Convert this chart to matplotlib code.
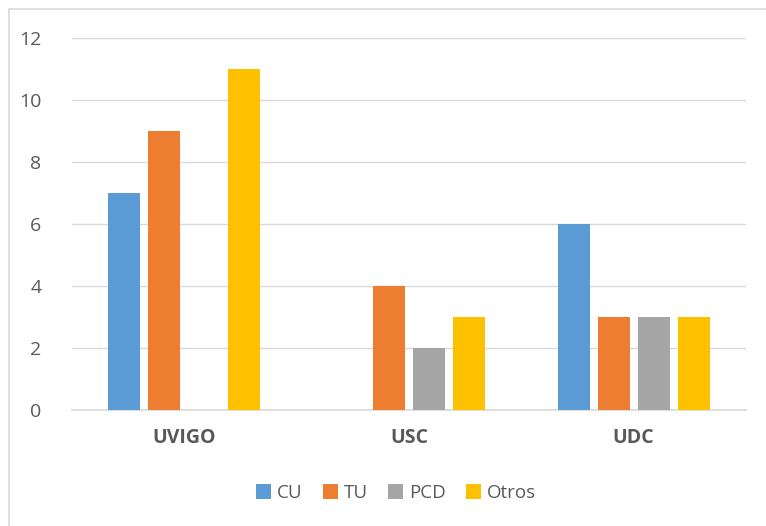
import matplotlib.pyplot as plt
import numpy as np

plt.rcParams['font.family'] = ['Open Sans', 'DejaVu Sans']

# Data
universities = ['UVIGO', 'USC', 'UDC']
series = ['CU', 'TU', 'PCD', 'Otros']
cu = [7, 0, 6]
tu = [9, 4, 3]
pcd = [0, 2, 3]
otros = [11, 3, 3]
colors = ['#5B9BD5', '#ED7D31', '#A5A5A5', '#FFC000']

text_color = '#595959'
grid_color = '#D9D9D9'

fig = plt.figure(figsize=(7.66, 5.26), dpi=100)
ax = fig.add_axes([72 / 766, 1 - 410 / 526, 674 / 766, 372 / 526])

# Outer chart border
fig.patches.append(plt.Rectangle((9 / 766, -0.01), 1.0, 1 - 9 / 526 + 0.01,
                                 transform=fig.transFigure, fill=False,
                                 edgecolor=grid_color, linewidth=1.2))

x = np.arange(len(universities))
step = 40 / 225
width = 32 / 225
for i, (name, vals) in enumerate(zip(series, [cu, tu, pcd, otros])):
    ax.bar(x + (i - 1.5) * step, vals, width, color=colors[i], label=name, zorder=3)

ax.set_xlim(-0.5, 2.5)
ax.set_ylim(0, 12)
ax.set_yticks(range(0, 13, 2))
ax.yaxis.grid(True, color=grid_color, linewidth=1)
ax.set_axisbelow(True)

for s in ['top', 'right', 'left']:
    ax.spines[s].set_visible(False)
ax.spines['bottom'].set_color(grid_color)
ax.spines['bottom'].set_linewidth(1.2)

ax.set_xticks(x)
ax.set_xticklabels(universities, fontsize=14, fontweight='bold', color=text_color)
ax.tick_params(axis='x', length=0, pad=13)
ax.tick_params(axis='y', length=0, pad=22, labelsize=14, labelcolor=text_color)

fig.legend(loc='center', bbox_to_anchor=(396 / 766, 1 - 493 / 526), ncol=4,
           frameon=False, fontsize=13.5, labelcolor=text_color,
           handlelength=0.8, handleheight=0.8, handletextpad=0.3, columnspacing=1.1)

fig.savefig('out.png', dpi=100)
